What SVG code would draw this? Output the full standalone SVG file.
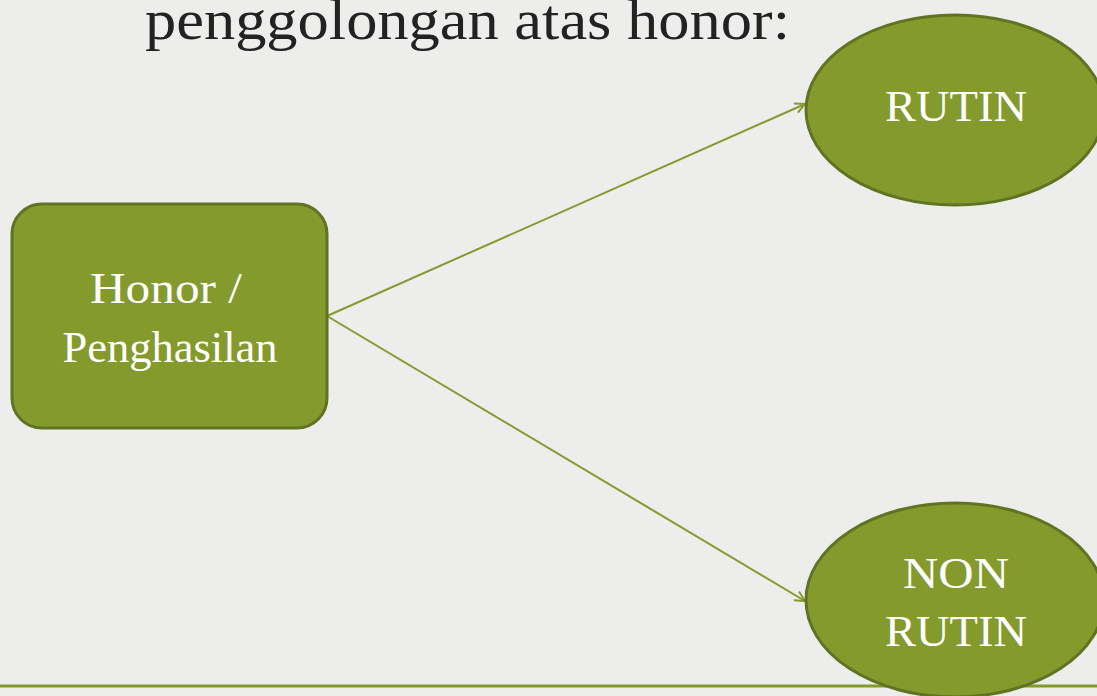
<svg xmlns="http://www.w3.org/2000/svg" width="1097" height="696" viewBox="0 0 1097 696">
<style>
.node{fill:#849A2D;stroke:#5F7322;stroke-width:3}
.lbl{font-family:"Liberation Serif",serif;fill:#ffffff;font-size:45px;text-anchor:middle}
.conn{stroke:#849A2D;stroke-width:2;fill:none}
</style>
<defs>
<marker id="arr" viewBox="0 0 12 12" refX="11" refY="6" markerWidth="12" markerHeight="12" markerUnits="userSpaceOnUse" orient="auto">
<path d="M1,1 L11,6 L1,11" fill="none" stroke="#849A2D" stroke-width="2"/>
</marker>
</defs>
<rect width="1097" height="696" fill="#EDEDEC"/>
<text x="145" y="39" font-family="Liberation Serif, serif" font-size="56" fill="#222222" textLength="645" lengthAdjust="spacingAndGlyphs">penggolongan atas honor:</text>
<line x1="0" y1="686" x2="1097" y2="686" stroke="#849A2D" stroke-width="3"/>
<g id="connectors">
<line class="conn" x1="327" y1="316" x2="805" y2="104" marker-end="url(#arr)"/>
<line class="conn" x1="327" y1="316" x2="805" y2="601" marker-end="url(#arr)"/>
</g>
<g id="honor">
<rect class="node" x="12" y="204" width="315" height="224" rx="30"/>
<text class="lbl" x="166" y="303" textLength="152" lengthAdjust="spacingAndGlyphs">Honor /</text>
<text class="lbl" x="170" y="362" textLength="215" lengthAdjust="spacingAndGlyphs">Penghasilan</text>
</g>
<g id="rutin">
<ellipse class="node" cx="955" cy="110" rx="149" ry="95"/>
<text class="lbl" x="956" y="121" textLength="142" lengthAdjust="spacingAndGlyphs">RUTIN</text>
</g>
<g id="nonrutin">
<ellipse class="node" cx="955" cy="600" rx="149" ry="97"/>
<text class="lbl" x="956" y="588" textLength="106" lengthAdjust="spacingAndGlyphs">NON</text>
<text class="lbl" x="956" y="646" textLength="142" lengthAdjust="spacingAndGlyphs">RUTIN</text>
</g>
</svg>
